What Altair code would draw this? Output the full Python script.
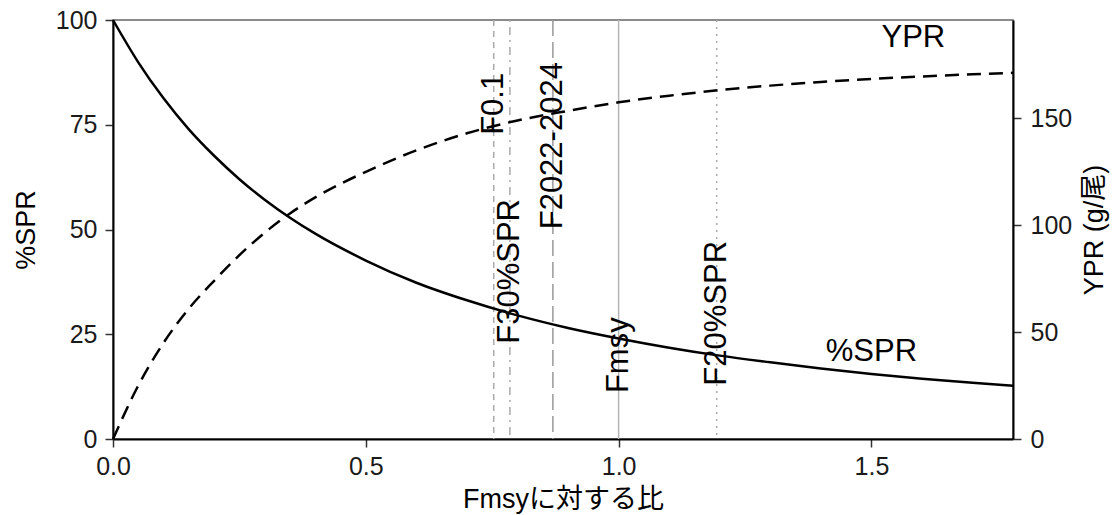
import altair as alt
import pandas as pd

# ---- data ----
F = [0, 0.05, 0.1, 0.15, 0.2, 0.25, 0.3, 0.35, 0.4, 0.5, 0.6, 0.7, 0.8, 0.9,
     1.0, 1.1, 1.2, 1.3, 1.4, 1.5, 1.6, 1.7, 1.78]
SPR = [100, 89.9, 81.3, 73.9, 67.6, 62.0, 57.1, 52.8, 49.0, 42.6, 37.3, 33.1, 29.5, 26.5,
       24.0, 21.8, 19.9, 18.3, 16.8, 15.5, 14.4, 13.4, 12.7]
YPR = [0, 25, 45, 61, 74, 86, 96.5, 105.5, 113, 125, 135, 143, 149, 153.5,
       157.5, 160.6, 163.2, 165.3, 167, 168.4, 169.6, 170.6, 171.3]

ref_labels = ["F0.1", "F30%SPR", "F2022-2024", "Fmsy", "F20%SPR"]
ref_x = [0.753, 0.785, 0.87, 1.0, 1.194]
ref_text_y = [80, 40, 70, 20, 30]

curve_labels = ["%SPR", "YPR"]
curve_label_x = [1.5, 1.583]
curve_label_y = [20.8, 95.7]

x_ticks = [0, 0.5, 1.0, 1.5]
left_ticks = [0, 25, 50, 75, 100]
right_ticks = [0, 50, 100, 150]

# ---- styles ----
ref_dash = [[6, 5], [2, 5, 8, 5], [16, 6], [1, 0], [2, 5]]
ref_color = ["#aaaaaa", "#aaaaaa", "#999999", "#b5b5b5", "#aaaaaa"]
ref_width = [1.5, 1.5, 2.5, 1.5, 1.5]

FONT = "Liberation Sans, Arial, Noto Sans CJK JP, sans-serif"

curve = pd.DataFrame({"F": F, "SPR": SPR, "YPR": YPR})
refs = pd.DataFrame({"label": ref_labels, "x": ref_x, "ty": ref_text_y})
clabs = pd.DataFrame({"label": curve_labels, "x": curve_label_x, "ly": curve_label_y})

xscale = alt.Scale(domain=[0, 1.78], nice=False, zero=False)
xaxis = alt.Axis(values=x_ticks, format=".1f", title="Fmsyに対する比",
                 labelPadding=7, titlePadding=7, labelFlush=False)
lscale = alt.Scale(domain=[0, 100], nice=False)
laxis = alt.Axis(values=left_ticks, title="%SPR", labelPadding=8, titlePadding=15,
                 labelFlush=False)
rscale = alt.Scale(domain=[0, 196], nice=False)
raxis = alt.Axis(values=right_ticks, title="YPR (g/尾)", orient="right",
                 labelPadding=9, titlePadding=10, titleAngle=270,
                 titleBaseline="top", labelFlush=False)


def X(field):
    return alt.X(field, scale=xscale, axis=xaxis, title="Fmsyに対する比")


def YL(field):
    return alt.Y(field, scale=lscale, axis=laxis, title="%SPR")


spr_line = alt.Chart(curve).mark_line(
    color="black", strokeWidth=2.5, interpolate="monotone"
).encode(x=X("F:Q"), y=YL("SPR:Q"))

rules = alt.Chart(refs).mark_rule().encode(
    x=X("x:Q"),
    strokeDash=alt.StrokeDash("label:N", scale=alt.Scale(domain=ref_labels, range=ref_dash), legend=None),
    color=alt.Color("label:N", scale=alt.Scale(domain=ref_labels, range=ref_color), legend=None),
    strokeWidth=alt.StrokeWidth("label:N", scale=alt.Scale(domain=ref_labels, range=ref_width), legend=None),
)

ref_texts = alt.Chart(refs).mark_text(
    angle=270, fontSize=31, font=FONT, color="black", align="center", baseline="middle"
).encode(x=X("x:Q"), y=YL("ty:Q"), text="label:N")

curve_texts = alt.Chart(clabs).mark_text(
    fontSize=31, font=FONT, color="black", align="center", baseline="middle"
).encode(x=X("x:Q"), y=YL("ly:Q"), text="label:N")

left = alt.layer(rules, spr_line, ref_texts, curve_texts)

ypr_line = alt.Chart(curve).mark_line(
    color="black", strokeWidth=2.5, strokeDash=[14, 8], interpolate="monotone"
).encode(
    x=X("F:Q"),
    y=alt.Y("YPR:Q", scale=rscale, axis=raxis, title="YPR (g/尾)"),
)

chart = alt.layer(left, ypr_line).resolve_scale(y="independent").properties(
    width=900, height=419,
    autosize=alt.AutoSizeParams(type="none"),
    padding={"left": 113, "top": 20, "right": 103, "bottom": 76},
    background="white",
).configure_view(
    stroke="#666666", strokeWidth=1.5
).configure_axis(
    grid=False,
    domainColor="black", domainWidth=2,
    tickColor="#333333", tickWidth=1.5, tickSize=8,
    labelFont=FONT, labelFontSize=25, labelColor="#1a1a1a",
    titleFont=FONT, titleFontSize=27, titleFontWeight="normal", titleColor="black",
)

chart.save("out.html", embed_options={"renderer": "svg", "actions": False})
